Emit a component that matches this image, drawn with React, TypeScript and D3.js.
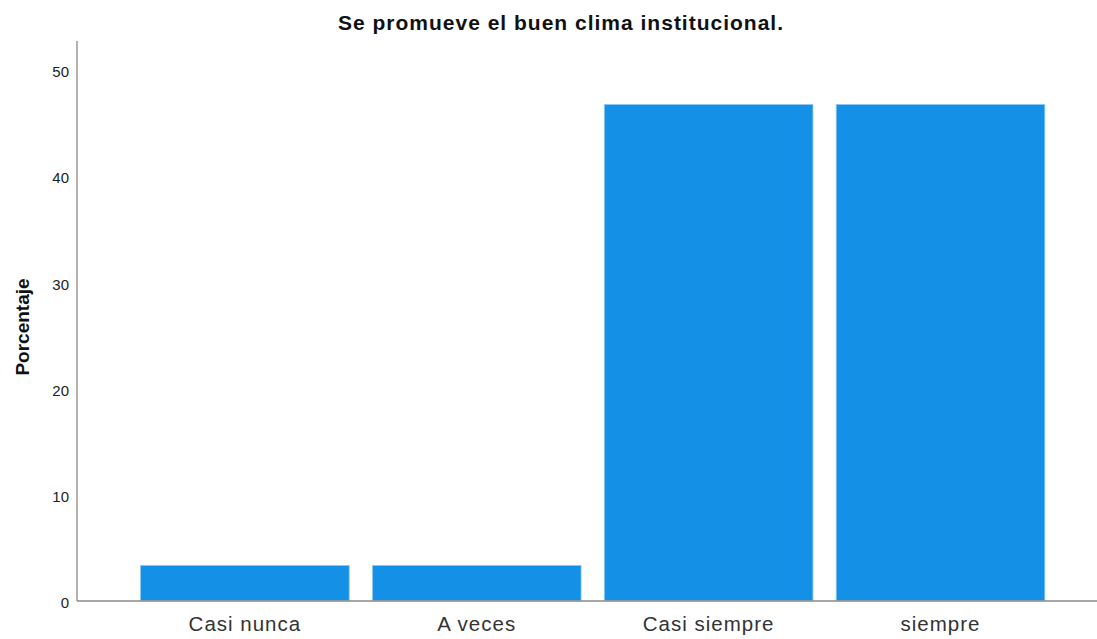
import React from "react";
import * as d3 from "d3";

const categories = ["Casi nunca", "A veces", "Casi siempre", "siempre"];
const values = [3.3, 3.3, 46.7, 46.7];
const yTicks = [0, 10, 20, 30, 40, 50];
const title = "Se promueve el buen clima institucional.";
const yLabel = "Porcentaje";

const W = 1097;
const H = 639;

export default function App() {
  const y = d3.scaleLinear().domain([0, 50]).range([600.5, 69.5]);
  const x = d3
    .scaleBand<string>()
    .domain(categories)
    .range([129, 1056.4])
    .paddingInner(0.1005)
    .paddingOuter(0.05);
  const font = "'Liberation Sans', Arial, sans-serif";
  return (
    <svg
      width={W}
      height={H}
      style={{ position: "absolute", left: 0, top: 0, background: "#fff" }}
    >
      <text
        x={561}
        y={30}
        textAnchor="middle"
        fontFamily={font}
        fontWeight="bold"
        fontSize={21}
        letterSpacing={1}
        fill="#111"
      >
        {title}
      </text>
      <text
        transform={`translate(29,${327}) rotate(-90)`}
        textAnchor="middle"
        fontFamily={font}
        fontWeight="bold"
        fontSize={19}
        fill="#111"
      >
        {yLabel}
      </text>
      {yTicks.map((t) => (
        <text
          key={t}
          x={69}
          y={y(t) + 2.5}
          dy="0.35em"
          textAnchor="end"
          fontFamily={font}
          fontSize={15}
          fill="#222"
        >
          {t}
        </text>
      ))}
      {categories.map((c, i) => (
        <rect
          key={c}
          x={x(c)}
          y={y(values[i])}
          width={x.bandwidth()}
          height={y(0) - y(values[i])}
          fill="#1490E6"
          stroke="#8cc6f0"
          strokeWidth={0.8}
        />
      ))}
      <line x1={77} x2={77} y1={41} y2={601} stroke="#888" strokeWidth={1.3} />
      <line x1={77} x2={1097} y1={601} y2={601} stroke="#888" strokeWidth={1.3} />
      {categories.map((c) => (
        <text
          key={c}
          x={(x(c) as number) + x.bandwidth() / 2}
          y={631}
          textAnchor="middle"
          fontFamily={font}
          fontSize={20.5}
          letterSpacing={1}
          fill="#333"
        >
          {c}
        </text>
      ))}
    </svg>
  );
}
